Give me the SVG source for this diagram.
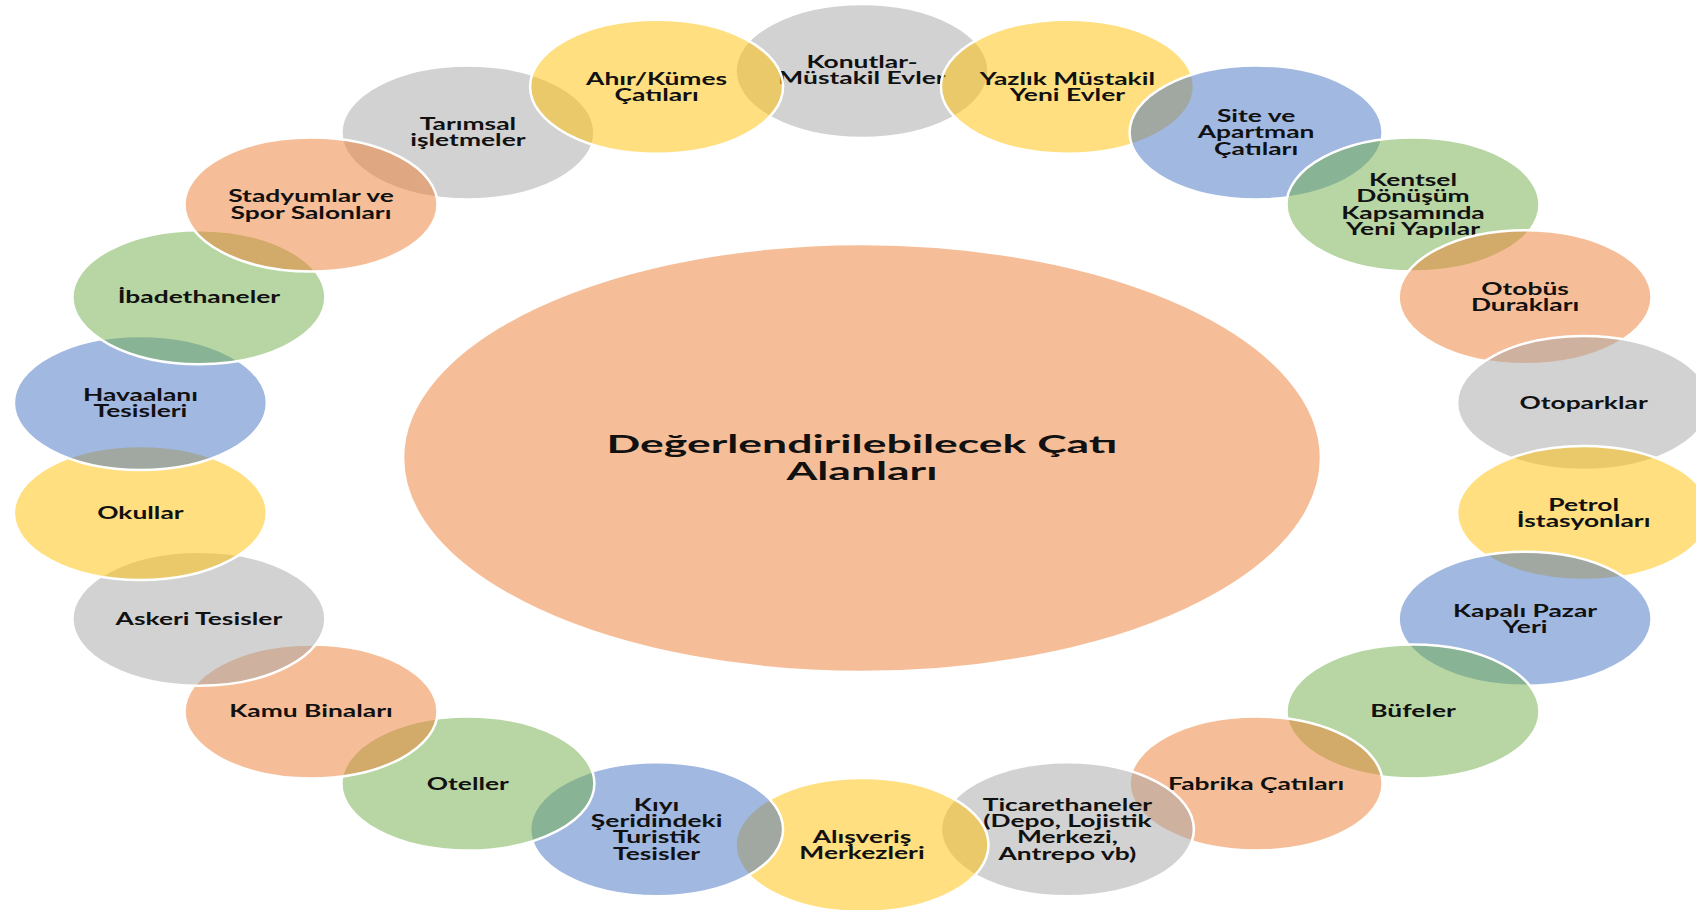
<svg xmlns="http://www.w3.org/2000/svg" width="1696" height="910" viewBox="0 0 1696 910">
<style>
.n{stroke:#ffffff;stroke-width:2.5;fill-opacity:0.5}
.gray{fill:#A5A5A5}.yel{fill:#FFC000}.blu{fill:#4472C4}.grn{fill:#70AD47}.org{fill:#ED7D31}
.t{font-family:Lato,'Open Sans','DejaVu Sans',sans-serif;font-weight:700;font-size:16.5px;fill:#111111;text-anchor:middle}
.title{font-family:Lato,'Open Sans','DejaVu Sans',sans-serif;font-weight:700;font-size:24px;fill:#111111;text-anchor:middle}
</style>
<rect width="1696" height="910" fill="#ffffff"/>
<g id="center">
<ellipse class="n org" cx="862" cy="458" rx="459" ry="214"/>
<text class="title"><tspan x="862" y="453" textLength="511" lengthAdjust="spacingAndGlyphs">Değerlendirilebilecek Çatı</tspan><tspan x="862" y="480" textLength="151" lengthAdjust="spacingAndGlyphs">Alanları</tspan></text>
</g>
<g id="connectors"></g>
<g id="n20">
<ellipse class="n gray" cx="467.9" cy="132.4" rx="126.5" ry="67"/>
<text class="t" transform="translate(467.9,132.4) scale(1.6,1)"><tspan x="0" y="-2.2">Tarımsal</tspan><tspan x="0" y="14">işletmeler</tspan></text>
</g>
<g id="n0">
<ellipse class="n gray" cx="862" cy="71" rx="126.5" ry="67"/>
<text class="t" transform="translate(862,70) scale(1.6,1)"><tspan x="0" y="-2.2">Konutlar-</tspan><tspan x="0" y="14">Müstakil Evler</tspan></text>
</g>
<g id="n1">
<ellipse class="n yel" cx="1067.4" cy="86.7" rx="126.5" ry="67"/>
<text class="t" transform="translate(1067.4,86.7) scale(1.6,1)"><tspan x="0" y="-2.2">Yazlık Müstakil</tspan><tspan x="0" y="14">Yeni Evler</tspan></text>
</g>
<g id="n2">
<ellipse class="n blu" cx="1256.1" cy="132.4" rx="126.5" ry="67"/>
<text class="t" transform="translate(1256.1,132.4) scale(1.6,1)"><tspan x="0" y="-10.4">Site ve</tspan><tspan x="0" y="5.9">Apartman</tspan><tspan x="0" y="22.2">Çatıları</tspan></text>
</g>
<g id="n3">
<ellipse class="n grn" cx="1413" cy="204.6" rx="126.5" ry="67"/>
<text class="t" transform="translate(1413,204.6) scale(1.6,1)"><tspan x="0" y="-18.5">Kentsel</tspan><tspan x="0" y="-2.2">Dönüşüm</tspan><tspan x="0" y="14">Kapsamında</tspan><tspan x="0" y="30.3">Yeni Yapılar</tspan></text>
</g>
<g id="n4">
<ellipse class="n org" cx="1525.1" cy="297.2" rx="126.5" ry="67"/>
<text class="t" transform="translate(1525.1,297.2) scale(1.6,1)"><tspan x="0" y="-2.2">Otobüs</tspan><tspan x="0" y="14">Durakları</tspan></text>
</g>
<g id="n5">
<ellipse class="n gray" cx="1583.6" cy="402.9" rx="126.5" ry="67"/>
<text class="t" transform="translate(1583.6,402.9) scale(1.6,1)"><tspan x="0" y="6">Otoparklar</tspan></text>
</g>
<g id="n6">
<ellipse class="n yel" cx="1583.6" cy="513.1" rx="126.5" ry="67"/>
<text class="t" transform="translate(1583.6,513.1) scale(1.6,1)"><tspan x="0" y="-2.2">Petrol</tspan><tspan x="0" y="14">İstasyonları</tspan></text>
</g>
<g id="n7">
<ellipse class="n blu" cx="1525.1" cy="618.8" rx="126.5" ry="67"/>
<text class="t" transform="translate(1525.1,618.8) scale(1.6,1)"><tspan x="0" y="-2.2">Kapalı Pazar</tspan><tspan x="0" y="14">Yeri</tspan></text>
</g>
<g id="n8">
<ellipse class="n grn" cx="1413" cy="711.4" rx="126.5" ry="67"/>
<text class="t" transform="translate(1413,711.4) scale(1.6,1)"><tspan x="0" y="6">Büfeler</tspan></text>
</g>
<g id="n9">
<ellipse class="n org" cx="1256.1" cy="783.6" rx="126.5" ry="67"/>
<text class="t" transform="translate(1256.1,783.6) scale(1.6,1)"><tspan x="0" y="6">Fabrika Çatıları</tspan></text>
</g>
<g id="n10">
<ellipse class="n gray" cx="1067.4" cy="829.3" rx="126.5" ry="67"/>
<text class="t" transform="translate(1067.4,829.3) scale(1.6,1)"><tspan x="0" y="-18.5">Ticarethaneler</tspan><tspan x="0" y="-2.2">(Depo, Lojistik</tspan><tspan x="0" y="14">Merkezi,</tspan><tspan x="0" y="30.3">Antrepo vb)</tspan></text>
</g>
<g id="n11">
<ellipse class="n yel" cx="862" cy="845" rx="126.5" ry="67"/>
<text class="t" transform="translate(862,845) scale(1.6,1)"><tspan x="0" y="-2.2">Alışveriş</tspan><tspan x="0" y="14">Merkezleri</tspan></text>
</g>
<g id="n12">
<ellipse class="n blu" cx="656.6" cy="829.3" rx="126.5" ry="67"/>
<text class="t" transform="translate(656.6,829.3) scale(1.6,1)"><tspan x="0" y="-18.5">Kıyı</tspan><tspan x="0" y="-2.2">Şeridindeki</tspan><tspan x="0" y="14">Turistik</tspan><tspan x="0" y="30.3">Tesisler</tspan></text>
</g>
<g id="n13">
<ellipse class="n grn" cx="467.9" cy="783.6" rx="126.5" ry="67"/>
<text class="t" transform="translate(467.9,783.6) scale(1.6,1)"><tspan x="0" y="6">Oteller</tspan></text>
</g>
<g id="n14">
<ellipse class="n org" cx="311" cy="711.4" rx="126.5" ry="67"/>
<text class="t" transform="translate(311,711.4) scale(1.6,1)"><tspan x="0" y="6">Kamu Binaları</tspan></text>
</g>
<g id="n15">
<ellipse class="n gray" cx="198.9" cy="618.8" rx="126.5" ry="67"/>
<text class="t" transform="translate(198.9,618.8) scale(1.6,1)"><tspan x="0" y="6">Askeri Tesisler</tspan></text>
</g>
<g id="n16">
<ellipse class="n yel" cx="140.4" cy="513.1" rx="126.5" ry="67"/>
<text class="t" transform="translate(140.4,513.1) scale(1.6,1)"><tspan x="0" y="6">Okullar</tspan></text>
</g>
<g id="n17">
<ellipse class="n blu" cx="140.4" cy="402.9" rx="126.5" ry="67"/>
<text class="t" transform="translate(140.4,402.9) scale(1.6,1)"><tspan x="0" y="-2.2">Havaalanı</tspan><tspan x="0" y="14">Tesisleri</tspan></text>
</g>
<g id="n18">
<ellipse class="n grn" cx="198.9" cy="297.2" rx="126.5" ry="67"/>
<text class="t" transform="translate(198.9,297.2) scale(1.6,1)"><tspan x="0" y="6">İbadethaneler</tspan></text>
</g>
<g id="n19">
<ellipse class="n org" cx="311" cy="204.6" rx="126.5" ry="67"/>
<text class="t" transform="translate(311,204.6) scale(1.6,1)"><tspan x="0" y="-2.2">Stadyumlar ve</tspan><tspan x="0" y="14">Spor Salonları</tspan></text>
</g>
<g id="n21">
<ellipse class="n yel" cx="656.6" cy="86.7" rx="126.5" ry="67"/>
<text class="t" transform="translate(656.6,86.7) scale(1.6,1)"><tspan x="0" y="-2.2">Ahır/Kümes</tspan><tspan x="0" y="14">Çatıları</tspan></text>
</g>
</svg>
